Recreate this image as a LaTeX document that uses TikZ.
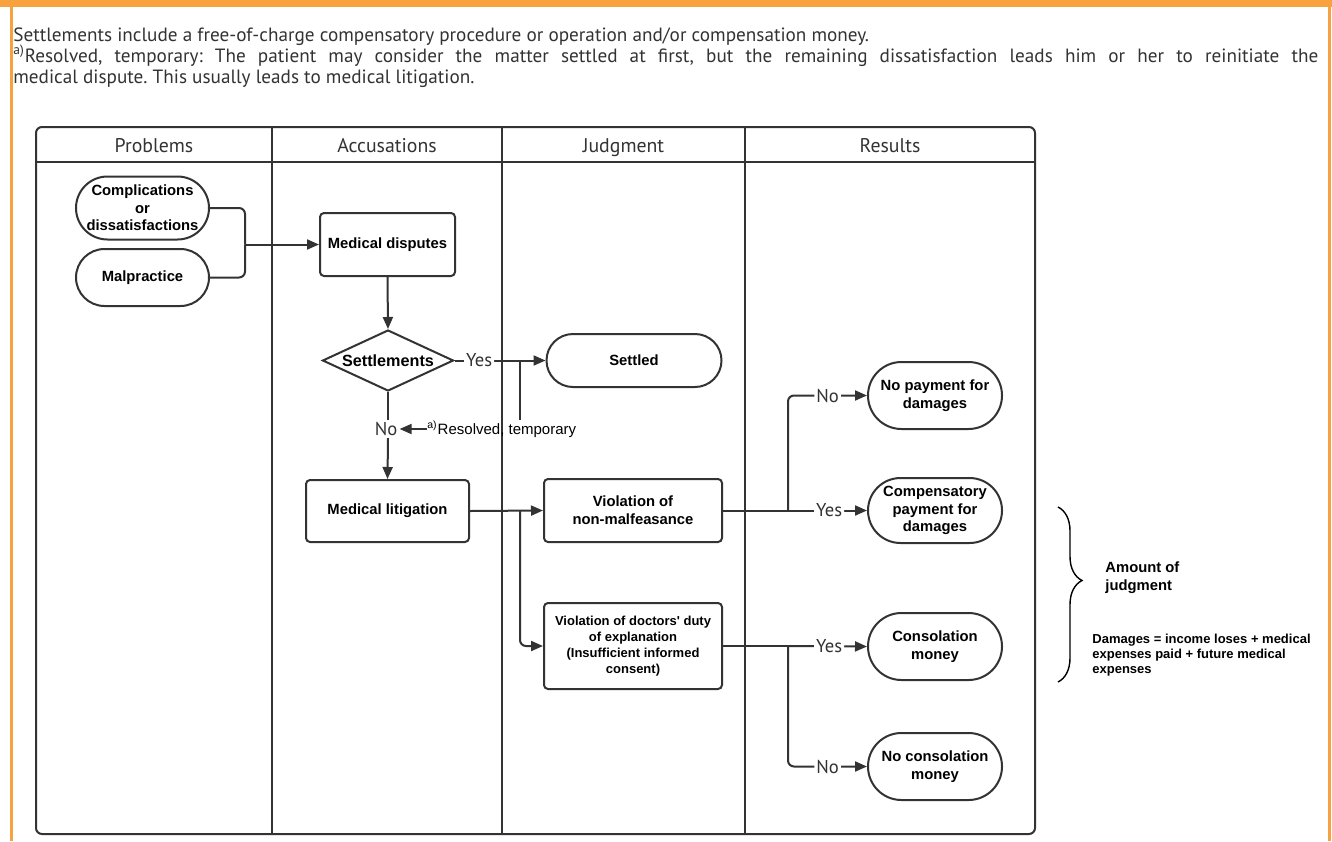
\documentclass[tikz,border=0pt]{standalone}
\usepackage{fontspec}
\setmainfont{Liberation Sans}[Ligatures=TeXOff]
\newfontfamily\ptsans{PT Sans}
\usetikzlibrary{shapes.geometric,shapes.misc,arrows.meta,decorations.pathreplacing}
\definecolor{orangebar}{HTML}{F7A13F}
\definecolor{ink}{HTML}{333333}
\frenchspacing
\begin{document}
\begin{tikzpicture}[x=0.5pt,y=-0.5pt,
  nodefont/.style={font=\fontsize{7.4}{8.8}\selectfont\bfseries},
  box/.style={draw=ink,line width=1pt,rounded corners=2pt,align=center,nodefont,inner sep=0pt},
  pill/.style={rounded rectangle,draw=ink,line width=1pt,align=center,nodefont,inner sep=0pt},
  lane/.style={draw=ink,line width=1pt},
  head/.style={font=\ptsans\fontsize{9.9}{11}\selectfont,text=ink,anchor=base,inner sep=0pt},
  conn/.style={draw=ink,line width=1pt,rounded corners=3pt},
  arr/.style={conn,-{Triangle[length=6pt,width=5pt]}},
  lbl/.style={fill=white,inner sep=1pt,font=\ptsans\fontsize{9.3}{10}\selectfont,text=ink},
  note/.style={font=\ptsans\fontsize{9.6}{10.5}\selectfont\frenchspacing,text=ink,inner sep=0pt,anchor=base west}
]
\useasboundingbox (0,0) rectangle (1332,841);
\fill[white] (0,0) rectangle (1332,841);
% orange frame
\fill[orangebar] (0,0) rectangle (1332,7);
\fill[orangebar] (10,7) rectangle (12.5,841);
\fill[orangebar] (1328,7) rectangle (1331,841);
% notes
\node[note] (n1) at (13,41) {Settlements include a free-of-charge compensatory procedure or operation and/or compensation money.};
\node[note] (n2) at (13,62) {\makebox[652.5pt][s]{\textsuperscript{a)}Resolved, temporary: The patient may consider the matter settled at first, but the remaining dissatisfaction leads him or her to reinitiate the}};
\node[note] (n3) at (13,83) {medical dispute. This usually leads to medical litigation.};
% swimlanes
\draw[lane,rounded corners=3pt] (36,127) rectangle (1035,834);
\draw[lane] (36,162) -- (1035,162);
\draw[lane] (272,127) -- (272,834);
\draw[lane] (502,127) -- (502,834);
\draw[lane] (745,127) -- (745,834);
\node[head] (h1) at (154,152) {Problems};
\node[head] (h2) at (387,152) {Accusations};
\node[head] (h3) at (623.5,152) {Judgment};
\node[head] (h4) at (890,152) {Results};
% nodes
\node[pill,minimum width=66.5pt,minimum height=31.5pt] (comp) at (142.5,208) {Complications\\or\\dissatisfactions};
\node[pill,minimum width=66.5pt,minimum height=28.5pt] (malp) at (142.5,277.5) {Malpractice};
\node[box,minimum width=67.5pt,minimum height=31.5pt] (disp) at (387.5,244.5) {Medical disputes};
\node[diamond,shape aspect=2.15,draw=ink,line width=1pt,font=\fontsize{8.1}{9}\selectfont\bfseries,inner sep=0pt,minimum width=65.5pt,minimum height=30.5pt] (sett) at (388,360.5) {Settlements};
\node[pill,minimum width=87.5pt,minimum height=26.5pt] (settled) at (634,360.5) {Settled};
\node[box,minimum width=81.5pt,minimum height=31pt] (litig) at (387.5,511) {Medical litigation};
\node[box,minimum width=89pt,minimum height=31.5pt] (nonmal) at (633,510.5) {Violation of\\non-malfeasance};
\node[box,minimum width=89pt,minimum height=43pt,font=\fontsize{6.5}{8}\selectfont\bfseries] (duty) at (633,646) {Violation of doctors' duty\\of explanation\\(Insufficient informed\\consent)};
\node[pill,minimum width=67pt,minimum height=33.5pt] (nopay) at (935,395.5) {No payment for\\damages};
\node[pill,minimum width=67pt,minimum height=32.5pt] (comppay) at (935,510.5) {Compensatory\\payment for\\damages};
\node[pill,minimum width=67pt,minimum height=33.5pt] (consol) at (935,646.5) {Consolation\\money};
\node[pill,minimum width=67pt,minimum height=33.5pt] (nocons) at (935,766.5) {No consolation\\money};
% labels
\node[lbl] (no1) at (386,429) {No};
\node[anchor=west,inner sep=0pt,font=\fontsize{7.5}{9}\selectfont,text=black] (res) at (427,429) {\textsuperscript{a)}Resolved, temporary};
% junctions
\coordinate (j1) at (245,244.5);
\coordinate (jy) at (520,360.5);
\coordinate (j2) at (520,511);
\coordinate (j3) at (788,510.5);
\coordinate (j4) at (788,646);
% connectors
\draw[conn] (comp.east) -| (j1);
\draw[conn] (malp.east) -| (j1);
\draw[arr] (j1) -- (disp.west);
\draw[arr] (disp.south) -- (sett.north);
\draw[arr] (sett.east) -- node[lbl,pos=0.27]{Yes} (settled.west);
\draw[conn] (jy) -- (jy |- res.north);
\draw[conn] (sett.south) -- (sett.south |- no1.north);
\draw[arr] (sett.south |- no1.south) -- (litig.north);
\draw[arr] (res.west) -- (no1.east);
\draw[arr] (litig.east) -- (nonmal.west);
\draw[arr] (j2) |- (duty.west);
\draw[conn] (nonmal.east) -- (j3);
\draw[arr] (j3) -- node[lbl,pos=0.52]{Yes} (comppay.west);
\draw[arr] (j3) |- node[lbl,pos=0.75]{No} (nopay.west);
\draw[conn] (duty.east) -- (j4);
\draw[arr] (j4) -- node[lbl,pos=0.52]{Yes} (consol.west);
\draw[arr] (j4) |- node[lbl,pos=0.75]{No} (nocons.west);
% brace and notes
\draw[draw=black,line width=0.7pt,decorate,decoration={brace,amplitude=12pt,aspect=0.42}] (1058,507) -- (1058,682);
\node[anchor=west,align=left,inner sep=0pt,font=\fontsize{7.4}{9}\selectfont\bfseries] (amt) at (1105,578) {Amount of\\judgment};
\node[anchor=north west,align=left,inner sep=0pt,font=\fontsize{6.5}{7.5}\selectfont\bfseries] (dmg) at (1092,634) {Damages = income loses + medical\\ expenses paid + future medical\\ expenses};
\end{tikzpicture}
\end{document}
